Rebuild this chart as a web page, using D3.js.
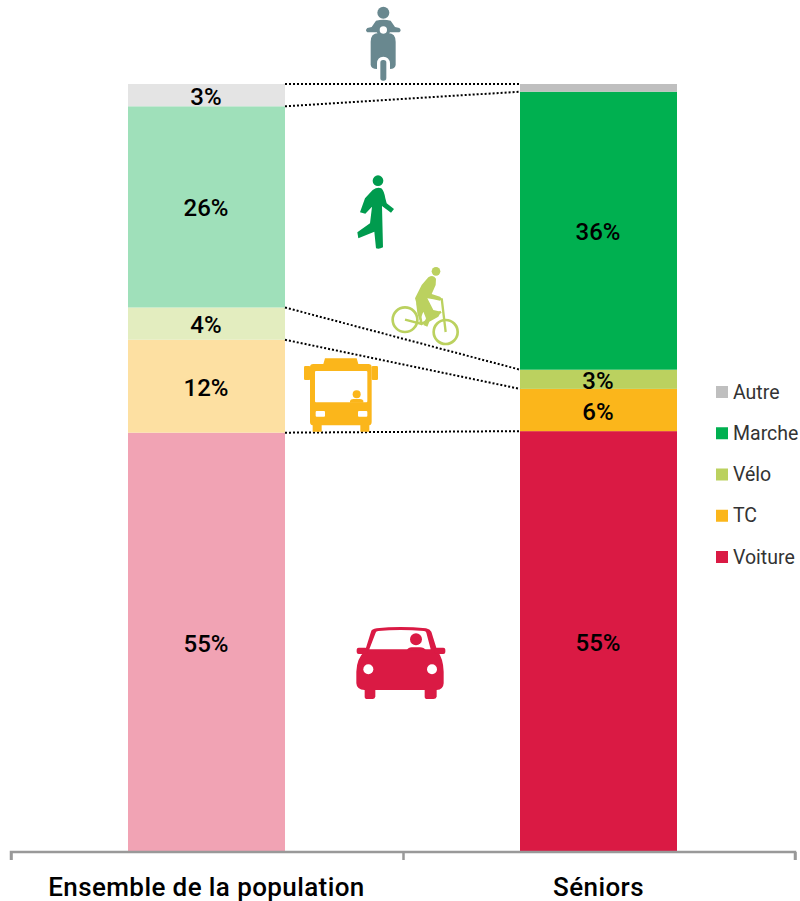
<!DOCTYPE html>
<html><head><meta charset="utf-8">
<script src="https://cdn.jsdelivr.net/npm/d3@7"></script>
<style>html,body{margin:0;padding:0;background:#fff}svg{display:block}text{font-family:Roboto,sans-serif}</style>
</head><body><svg id="c" width="800" height="901"></svg>
<script>
const categories=["Ensemble de la population","Séniors"];
const modes=["Voiture","TC","Vélo","Marche","Autre"];
const populationValues=[54.6,12.1,4.2,26.2,2.9];
const seniorValues=[54.8,5.5,2.5,36.2,1.0];
const populationLabels=["55%","12%","4%","26%","3%"];
const seniorLabels=["55%","6%","3%","36%",""];
const strongColors=["#DA1A44","#FBB61B","#BBD15F","#00B050","#BFBFBF"];
const paleColors=["#F1A3B4","#FDE0A2","#E3EDBF","#9FE0BA","#E4E4E4"];
const legendOrder=["Autre","Marche","Vélo","TC","Voiture"];

const svg=d3.select("#c");
const x=d3.scalePoint().domain(categories).range([206.5,598.5]);
const y=d3.scaleLinear().domain([0,100]).range([852,84]);
const barW=157;

function stack(vals){let s=0;return vals.map(v=>{const a=s;s+=v;return{y0:a,y1:s};});}
const series=[
 {cat:categories[0],seg:stack(populationValues),labels:populationLabels,colors:paleColors},
 {cat:categories[1],seg:stack(seniorValues),labels:seniorLabels,colors:strongColors}
];
series.forEach(s=>{
 const g=svg.append("g");
 g.selectAll("rect").data(s.seg).join("rect")
  .attr("x",x(s.cat)-barW/2).attr("width",barW)
  .attr("y",d=>y(d.y1)).attr("height",d=>y(d.y0)-y(d.y1))
  .attr("fill",(d,i)=>s.colors[i]);
 g.selectAll("text").data(s.seg).join("text")
  .attr("x",x(s.cat)-0.5).attr("y",d=>y((d.y0+d.y1)/2)+1.5)
  .attr("text-anchor","middle").attr("dominant-baseline","central")
  .attr("font-size",24).attr("font-weight",500).attr("fill","#000")
  .text((d,i)=>s.labels[i]);
});

const left=series[0].seg,right=series[1].seg;
const links=left.map((d,i)=>({a:d.y1,b:right[i].y1}));
svg.append("g").selectAll("line").data(links).join("line")
 .attr("x1",x(categories[0])+barW/2).attr("x2",x(categories[1])-barW/2)
 .attr("y1",d=>y(d.a)).attr("y2",d=>y(d.b))
 .attr("stroke","#000").attr("stroke-width",2).attr("stroke-dasharray","2 2");

// axis
const axis=d3.axisBottom(d3.scaleLinear().domain([0,2]).range([11,795])).tickValues([0,1,2]).tickSize(8).tickFormat("");
const ag=svg.append("g").attr("transform","translate(0,852)").call(axis);
ag.selectAll("path").attr("stroke","#999").attr("stroke-width",2.5).attr("d","M11,8V0H795V8");
ag.selectAll("line").attr("stroke","#999").attr("stroke-width",2.5);
svg.append("g").selectAll("text").data(categories).join("text")
 .attr("x",d=>x(d)).attr("y",896).attr("text-anchor","middle")
 .attr("font-size",26).attr("font-weight",500).attr("fill","#000").attr("letter-spacing",0.4).text(d=>d);

// legend
const ly=d3.scalePoint().domain(legendOrder).range([392,557]);
const lg=svg.append("g").selectAll("g").data(legendOrder).join("g").attr("transform",d=>`translate(716,${ly(d)})`);
lg.append("rect").attr("y",-6).attr("width",12).attr("height",12).attr("fill",d=>strongColors[modes.indexOf(d)]);
lg.append("text").attr("x",17).attr("y",6.5).attr("font-size",19.5).attr("fill","#333").text(d=>d);

// pictograms
function icon(tx,ty){return svg.append("g").attr("transform",`translate(${tx},${ty}) scale(${1/3})`);}
let g=icon(280,0);
const sc="#69888F";
g.append("circle").attr("cx",310).attr("cy",38).attr("r",18).attr("fill",sc);
g.append("path").attr("fill",sc).attr("d","M288,62Q310,56 332,62L345,81L358,84Q366,91 358,97L330,97L325,103H295L290,97L262,97Q254,91 262,84L275,81Z");
g.append("circle").attr("cx",310).attr("cy",90).attr("r",11).attr("fill","#fff");
g.append("path").attr("fill",sc).attr("d","M272,125Q272,100 295,99Q310,105 325,99Q347,100 347,125V195Q345,207 330,207V190Q328,170 310,170Q292,170 291,190V207Q274,207 272,195Z");
g.append("rect").attr("x",301).attr("y",180).attr("width",18).attr("height",62).attr("rx",8).attr("fill",sc);
g=icon(340,170);
const wc="#009B4E";
g.append("circle").attr("cx",114).attr("cy",32).attr("r",16).attr("fill",wc);
g.append("path").attr("fill",wc).attr("d","M98,60Q112,50 124,55Q132,62 136,85L140,100L162,117L153,128L126,108L127,150L129,232Q118,238 108,235L103,185L55,205L52,187L90,160L96,110L76,131L60,127L75,85Z");
g=icon(340,170);
const vc="#BBD15F";
g.append("circle").attr("cx",288).attr("cy",304).attr("r",13).attr("fill",vc);
g.append("path").attr("fill",vc).attr("d","M265,322Q280,312 288,326L287,345L275,372L300,380L306,386L300,392L280,388L262,385L280,420L303,425L295,440L268,455L262,470L250,465L258,445L250,425L238,455L245,470L232,430L228,395L225,385L245,345Z");
g.append("g").attr("fill","none").attr("stroke",vc).call(s=>{
 s.append("circle").attr("cx",195).attr("cy",449).attr("r",37).attr("stroke-width",8);
 s.append("circle").attr("cx",317).attr("cy",486).attr("r",36).attr("stroke-width",8);
 s.append("path").attr("stroke-width",7).attr("d","M195,449L245,462L303,425M305,385L317,486M233,400L245,462");
});
g=icon(290,350);
const bc="#FBB61B";
g.append("path").attr("fill",bc).attr("d","M60,52Q60,42 70,42H100L105,25H200L205,42H235Q245,42 245,52V215Q245,225 238,226V245H211V226H95V245H68V226Q60,225 60,215Z");
g.append("rect").attr("x",42).attr("y",48).attr("width",19).attr("height",42).attr("rx",4).attr("fill",bc);
g.append("rect").attr("x",245).attr("y",48).attr("width",19).attr("height",42).attr("rx",4).attr("fill",bc);
g.append("rect").attr("x",75).attr("y",63).attr("width",157).attr("height",94).attr("rx",3).attr("fill","#fff");
g.append("circle").attr("cx",200).attr("cy",133).attr("r",12).attr("fill",bc);
g.append("path").attr("fill",bc).attr("d","M180,158V152Q182,147 190,147H210Q218,147 220,152V158Z");
g.append("rect").attr("x",77).attr("y",183).attr("width",28).attr("height",17).attr("rx",3).attr("fill","#fff");
g.append("rect").attr("x",204).attr("y",183).attr("width",28).attr("height",17).attr("rx",3).attr("fill","#fff");
g=icon(340,615);
const cc="#DA1A44";
g.append("path").attr("fill",cc).attr("d","M75,108L93,50Q95,42 110,40Q180,32 258,40Q270,42 274,50L292,108Q310,130 311,170V205Q310,224 290,225V245Q288,252 280,252H262Q254,252 254,245V225H106V245Q104,252 98,252H82Q74,252 74,245V225Q50,224 49,205V170Q50,130 75,108Z");
g.append("path").attr("fill","#fff").attr("d","M88,103L107,53Q108,49 115,48Q180,42 252,48Q258,49 259,53L272,103Z");
g.append("circle").attr("cx",228).attr("cy",73).attr("r",18).attr("fill",cc);
g.append("path").attr("fill",cc).attr("d","M200,106Q205,97 215,97H240Q252,97 258,106Z");
g.append("rect").attr("x",50).attr("y",98).attr("width",32).attr("height",19).attr("rx",6).attr("fill",cc);
g.append("rect").attr("x",284).attr("y",98).attr("width",32).attr("height",19).attr("rx",6).attr("fill",cc);
g.append("circle").attr("cx",85).attr("cy",163).attr("r",15).attr("fill","#fff");
g.append("circle").attr("cx",276).attr("cy",163).attr("r",15).attr("fill","#fff");
</script></body></html>
